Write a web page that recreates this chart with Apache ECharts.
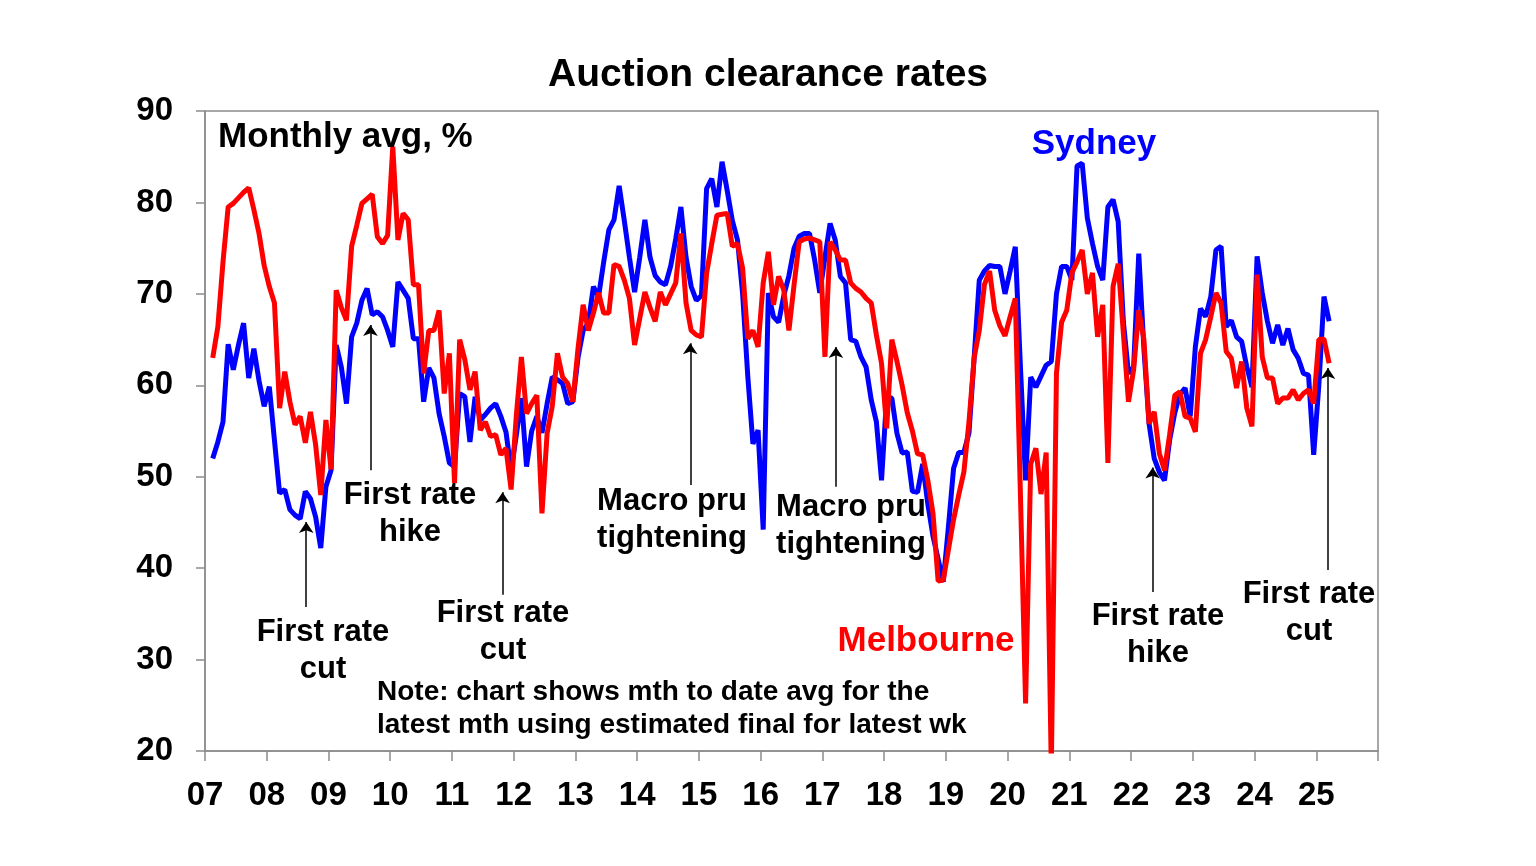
<!DOCTYPE html>
<html>
<head>
<meta charset="utf-8">
<script src="https://cdn.jsdelivr.net/npm/echarts@6/dist/echarts.min.js"></script>
<style>
html,body{margin:0;padding:0;background:#fff;}
#chart{width:1536px;height:866px;}
</style>
</head>
<body>
<div id="chart"></div>
<script>
// Monthly averages, first value = Feb 2007, last = Mar 2025
const firstYear = 2007;
const firstMonth = 2; // February
const yearLabels = ['07','08','09','10','11','12','13','14','15','16','17','18','19','20','21','22','23','24','25'];
const yTicks = [20,30,40,50,60,70,80,90];

const sydney = [
  52, 53.8, 56, 64.5, 61.7, 64.4, 66.8, 60.8, 64, 60.5, 57.7,
  59.85, 54, 48.2, 48.6, 46.4, 45.8, 45.4, 48.4, 47.6, 45.6, 42.2, 48.9,
  50.7, 64.4, 62, 58, 65.3, 66.8, 69.3, 70.6, 67.7, 68.05, 67.5, 66,
  64.2, 71.3, 70.4, 69.5, 65.1, 65.1, 58.2, 61.9, 60.8, 56.9, 54.4, 51.5,
  51.1, 59.1, 58.75, 53.8, 58.75, 56.2, 56.8, 57.5, 58, 56.6, 54.9, 50.7,
  54.5, 58.6, 51.1, 55, 56.6, 54.8, 58, 60.9, 60.6, 60.2, 58, 58.2,
  63, 66, 66.8, 70.8, 69.7, 73.5, 77, 78.1, 81.8, 78, 74, 70.2,
  74, 78.1, 74, 72, 71.3, 71, 73, 76, 79.5, 74, 70.8, 69.3,
  69.8, 81.5, 82.6, 79.5, 84.45, 81.3, 78, 75.9, 70, 61, 53.6, 55.1,
  44.2, 70.1, 67.5, 66.9, 69.8, 72, 75, 76.3, 76.6, 76.6, 73.7, 70.1,
  74, 77.7, 75.9, 71.9, 71.2, 65, 64.8, 63.1, 62, 58.4, 56, 49.6,
  58.75, 58.6, 54.75, 52.6, 52.7, 48.4, 48.3, 51.4, 47, 43.5, 41, 38.5,
  44.5, 50.9, 52.65, 52.65, 54.8, 63, 71.5, 72.5, 73.1, 73, 73, 70,
  72.5, 75.15, 62, 49.6, 60.9, 59.8, 61, 62.2, 62.6, 70, 73, 73,
  71.5, 84, 84.3, 78.3, 75.5, 73, 71.5, 79.5, 80.3, 77.9, 67, 61.3,
  62, 74.4, 64, 55.8, 52, 50.5, 49.6, 54, 57, 59, 59.7, 56.6,
  64.2, 68.4, 67.5, 69.7, 74.8, 75.2, 66.4, 67.1, 65.3, 64.8, 62, 59.8,
  74.1, 70.1, 67, 64.6, 66.6, 64.4, 66.2, 63.9, 62.95, 61.3, 61.1, 52.4,
  60, 69.7, 67
];

const melbourne = [
  63, 66.4, 73.5, 79.5, 79.9, 80.5, 81.1, 81.6, 79.2, 76.6, 73.1,
  70.8, 69, 57.5, 61.5, 58.2, 55.7, 56.6, 53.7, 57.1, 53.5, 48, 56.2,
  50.8, 70.4, 68.5, 67.1, 75.2, 77.5, 79.9, 80.4, 80.9, 76.25, 75.5, 76.4,
  86.1, 75.9, 78.8, 78.1, 71, 71, 61.3, 66, 66, 68.2, 59.1, 63.5,
  49.3, 65, 62.8, 59.5, 61.5, 55.1, 56, 54.4, 54.6, 52.4, 53.1, 48.6,
  56.6, 63.1, 56.9, 58, 58.9, 46, 54.75, 57.7, 63.5, 60.9, 60.2, 58.2,
  64, 68.8, 66, 67.9, 70.1, 67.9, 67.9, 73.2, 73, 71.5, 69.5, 64.4,
  67.3, 70.2, 68.5, 67, 70.2, 68.8, 70, 71.2, 76.6, 69, 66, 65.5,
  65.3, 72.25, 75.5, 78.6, 78.7, 78.8, 75.2, 75.5, 72.8, 65.1, 66, 64.2,
  71.2, 74.6, 68.8, 71.9, 70.4, 66, 71, 75.7, 76, 76.1, 75.9, 75.7,
  63.1, 75.7, 74.8, 73.7, 73.7, 71.2, 70.6, 70.2, 69.5, 69, 65.5, 62.4,
  55.3, 65, 62.6, 60, 57, 55, 52.5, 52.4, 49.6, 46, 38.6, 38.7,
  42, 45.3, 48, 50.5, 56, 63, 66, 71, 72.5, 68.2, 66.5, 65.4,
  67.5, 69.5, 48, 25.2, 51.4, 53.1, 48.1, 52.65, 18, 61.3, 66.9, 68.2,
  72.3, 73.5, 74.8, 70, 72.3, 65.3, 68.8, 51.5, 70.8, 73.3, 65.7, 58.2,
  61.7, 68.2, 65, 55.8, 57.1, 52.55, 50.7, 54.6, 58.9, 59.3, 56.6, 56.4,
  54.9, 63.5, 65, 67.5, 70.1, 69, 63.7, 62.95, 59.7, 62.6, 57.5, 55.5,
  72.1, 63.1, 60.8, 60.8, 58, 58.6, 58.6, 59.5, 58.4, 59.1, 59.5, 58,
  65, 65.05, 62.4
];

// annotation arrows: [x (decimal year), y start, y end (arrow head)]
const arrows = [
  [2008.64, 35.75, 45.05],
  [2009.68, 50.7, 66.6],
  [2011.82, 37.1, 48.3],
  [2014.86, 49.1, 64.6],
  [2017.22, 48.9, 64.2],
  [2022.35, 37.4, 51.0],
  [2025.19, 39.8, 61.9]
];

function toPoints(arr){
  return arr.map((v,k) => [firstYear + (firstMonth - 1 + k + 0.5)/12, v]);
}

const FONT = '"Liberation Sans", Arial, sans-serif';
const chart = echarts.init(document.getElementById('chart'), null, {renderer:'canvas'});

function txt(x, y, text, size, color, align){
  return {
    type:'text', x:x, y:y, z:100,
    style:{
      text:text, fill:color||'#000', font:'bold '+size+'px '+FONT,
      textAlign:align||'center', textVerticalAlign:'middle', lineHeight: size*1.17
    }
  };
}

const option = {
  animation:false,
  backgroundColor:'#fff',
  title:{
    text:'Auction clearance rates', left:'center', top:51,
    textStyle:{fontFamily:FONT, fontWeight:'bold', fontSize:39, color:'#000'}
  },
  grid:{left:205, right:158, top:111, bottom:115, show:true, borderColor:'#8c8c8c', borderWidth:1.5, containLabel:false},
  xAxis:{
    type:'value', min:2007, max:2026, interval:1,
    axisLine:{show:true, onZero:false, lineStyle:{color:'#8c8c8c', width:1.5}},
    axisTick:{show:true, length:10, lineStyle:{color:'#8c8c8c', width:1.5}},
    splitLine:{show:false},
    axisLabel:{
      margin:28, fontFamily:FONT, fontWeight:'bold', fontSize:33, color:'#000',
      formatter: v => { const k = Math.round(v) - 2007; return yearLabels[k] !== undefined ? yearLabels[k] : ''; }
    }
  },
  yAxis:{
    type:'value', min:20, max:90, interval:10,
    axisLine:{show:true, lineStyle:{color:'#8c8c8c', width:1.5}},
    axisTick:{show:true, length:9, lineStyle:{color:'#8c8c8c', width:1.5}},
    splitLine:{show:false},
    axisLabel:{margin:32, fontFamily:FONT, fontWeight:'bold', fontSize:33, color:'#000',
      formatter: v => yTicks.indexOf(v) >= 0 ? String(v) : ''}
  },
  series:[
    {
      name:'Sydney', type:'line', data:toPoints(sydney), showSymbol:false, symbol:'none',
      lineStyle:{color:'#0000ff', width:5}, itemStyle:{color:'#0000ff'}, z:2, clip:true
    },
    {
      name:'Melbourne', type:'line', data:toPoints(melbourne), showSymbol:false, symbol:'none',
      lineStyle:{color:'#ff0000', width:5}, itemStyle:{color:'#ff0000'}, z:3, clip:true,
      markLine:{
        silent:true, symbol:['none','arrow'], symbolSize:11,
        label:{show:false},
        itemStyle:{color:'#000'},
        lineStyle:{color:'#000', width:1.5, type:'solid'},
        data: arrows.map(a => [{coord:[a[0], a[1]]}, {coord:[a[0], a[2]]}])
      }
    }
  ],
  graphic:[
    txt(218, 137, 'Monthly avg, %', 35, '#000', 'left'),
    txt(1094, 144, 'Sydney', 35, '#0000ff'),
    txt(926, 641, 'Melbourne', 35, '#ff0000'),
    txt(323, 651, 'First rate\ncut', 31),
    txt(410, 514, 'First rate\nhike', 31),
    txt(503, 632, 'First rate\ncut', 31),
    txt(672, 520, 'Macro pru\ntightening', 31),
    txt(851, 526, 'Macro pru\ntightening', 31),
    txt(1158, 635, 'First rate\nhike', 31),
    txt(1309, 613, 'First rate\ncut', 31),
    {
      type:'text', x:377, y:709, z:100,
      style:{text:'Note: chart shows mth to date avg for the\nlatest mth using estimated final for latest wk',
        fill:'#000', font:'bold 28px '+FONT, textAlign:'left', textVerticalAlign:'middle', lineHeight:33}
    }
  ]
};
chart.setOption(option);
</script>
</body>
</html>
